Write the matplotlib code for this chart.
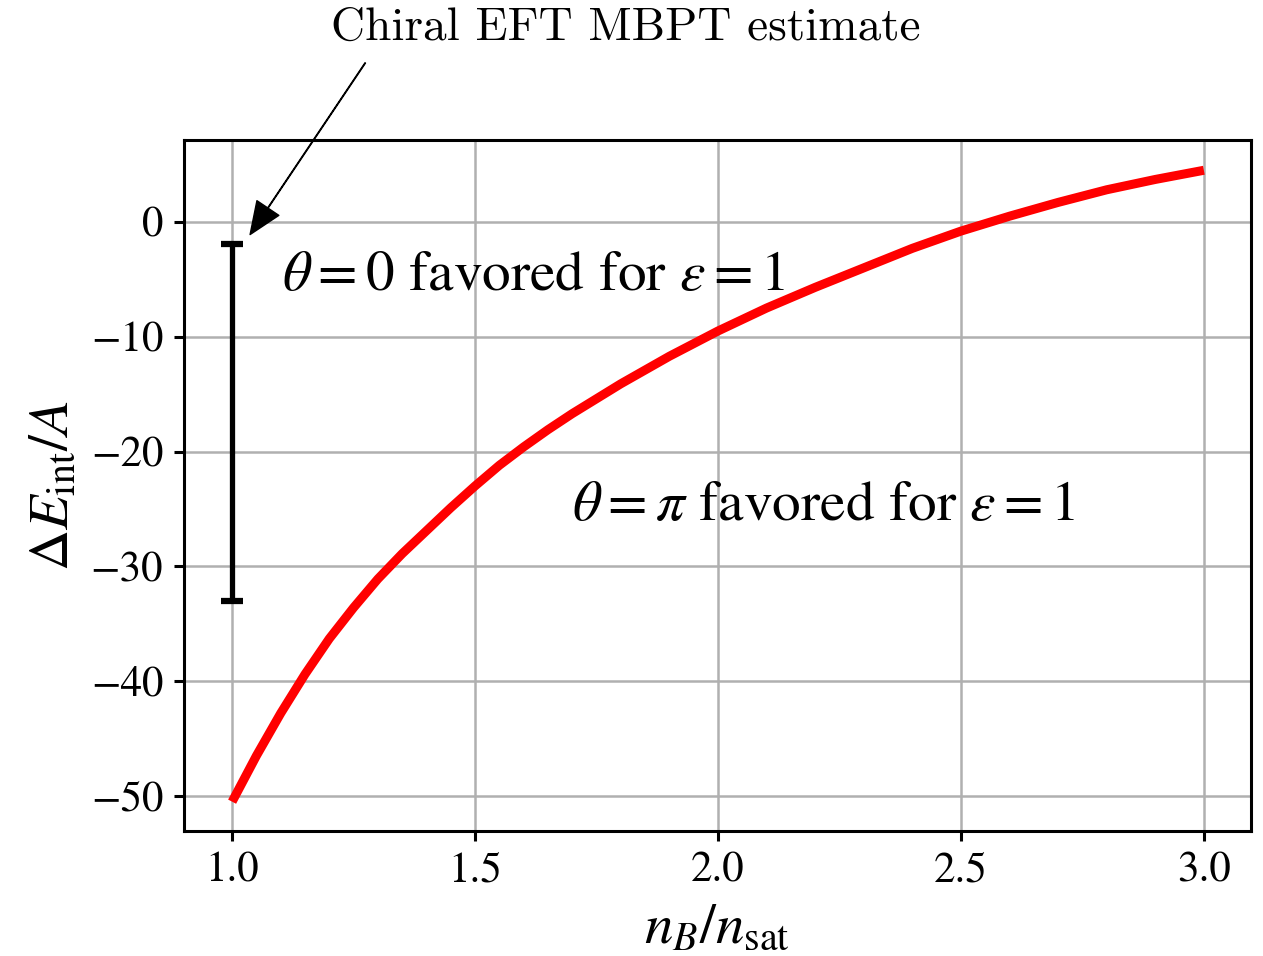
import numpy as np
import matplotlib
matplotlib.use('Agg')
import matplotlib.pyplot as plt

plt.rcParams['font.family'] = 'STIXGeneral'
plt.rcParams['mathtext.fontset'] = 'stix'

# interaction energy difference vs density
n_ratio = [1.0, 1.05, 1.1, 1.15, 1.2, 1.25, 1.3, 1.35, 1.4, 1.45, 1.5,
           1.55, 1.6, 1.65, 1.7, 1.8, 1.9, 2.0, 2.1, 2.2, 2.3, 2.4, 2.5,
           2.6, 2.7, 2.8, 2.9, 3.0]
dE = [-50.5, -46.5, -42.8, -39.4, -36.3, -33.6, -31.1, -28.9, -26.9, -24.9, -23.0,
      -21.2, -19.6, -18.1, -16.7, -14.1, -11.7, -9.5, -7.5, -5.7, -4.0, -2.3, -0.8,
      0.5, 1.7, 2.8, 3.7, 4.5]

# chiral EFT MBPT band at saturation density
eft_x = [1.0]
eft_lo = [-33.0]
eft_hi = [-1.9]

fig = plt.figure(figsize=(12.63, 9.56), dpi=100)
ax = fig.add_axes([0.1457, 0.1308, 0.8448, 0.7228])

ax.plot(n_ratio, dE, color='red', lw=6.5, solid_capstyle='butt',
        solid_joinstyle='round')

mid = [(a + b) / 2 for a, b in zip(eft_lo, eft_hi)]
err = [[m - a for m, a in zip(mid, eft_lo)], [b - m for m, b in zip(mid, eft_hi)]]
ax.errorbar(eft_x, mid, yerr=err, fmt='none', ecolor='black',
            elinewidth=3.8, capsize=8, capthick=4.5)

ax.text(1.103, -5.9, r'$\theta=0$ favored for $\varepsilon=1$',
        fontsize=41.3, va='baseline', ha='left')
ax.text(1.70, -26.0, r'$\theta=\pi$ favored for $\varepsilon=1$',
        fontsize=41.3, va='baseline', ha='left')

ax.annotate('', xy=(1.037, -1.1), xytext=(1.274, 13.85),
            arrowprops=dict(facecolor='black', edgecolor='black', width=0.4,
                            headwidth=19, headlength=23, shrink=0),
            annotation_clip=False)
ax.text(1.81, 16.9, 'Chiral EFT MBPT estimate', family='cmr10',
        fontsize=34, ha='center', va='center', clip_on=False)

ax.set_xlim(0.901, 3.097)
ax.set_ylim(-53.05, 7.14)
ax.set_xticks([1.0, 1.5, 2.0, 2.5, 3.0])
ax.set_yticks([-50, -40, -30, -20, -10, 0])

ax.set_xlabel(r'$n_B/n_{\rm sat}$', fontsize=41, labelpad=10)
ax.set_ylabel(r'$\Delta E_{\rm int}/A$', fontsize=41, labelpad=8)
ax.tick_params(labelsize=31, width=2.2, length=7, pad=8)
for s in ax.spines.values():
    s.set_linewidth(2.2)
ax.grid(color='#b0b0b0', lw=1.8)
ax.set_axisbelow(True)

plt.savefig('out.png', dpi=100)
